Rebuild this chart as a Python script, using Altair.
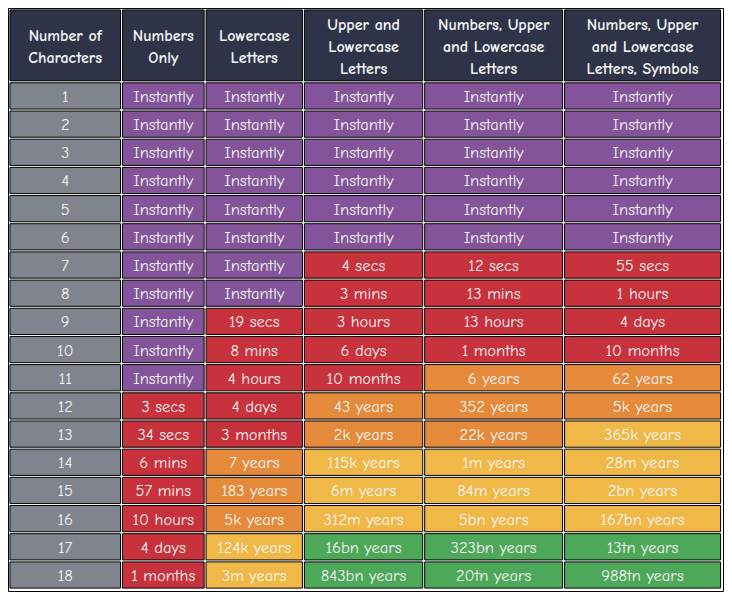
import altair as alt
import pandas as pd

# ---------------- data ----------------
headers = [
    "Number of\nCharacters",
    "Numbers\nOnly",
    "Lowercase\nLetters",
    "Upper and\nLowercase\nLetters",
    "Numbers, Upper\nand Lowercase\nLetters",
    "Numbers, Upper\nand Lowercase\nLetters, Symbols",
]
num_chars = [str(i) for i in range(1, 19)]

numbers_only = ["Instantly"] * 11 + ["3 secs", "34 secs", "6 mins", "57 mins", "10 hours", "4 days", "1 months"]
lowercase = ["Instantly"] * 8 + ["19 secs", "8 mins", "4 hours", "4 days", "3 months", "7 years",
                                 "183 years", "5k years", "124k years", "3m years"]
upper_lower = ["Instantly"] * 6 + ["4 secs", "3 mins", "3 hours", "6 days", "10 months", "43 years",
                                   "2k years", "115k years", "6m years", "312m years", "16bn years", "843bn years"]
num_upper_lower = ["Instantly"] * 6 + ["12 secs", "13 mins", "13 hours", "1 months", "6 years", "352 years",
                                       "22k years", "1m years", "84m years", "5bn years", "323bn years", "20tn years"]
all_sets = ["Instantly"] * 6 + ["55 secs", "1 hours", "4 days", "10 months", "62 years", "5k years",
                                "365k years", "28m years", "2bn years", "167bn years", "13tn years", "988tn years"]

# strength level per cell: I=instantly, R=red, O=orange, Y=yellow, G=green
lvl_numbers_only = list("IIIIIIIIIII") + list("RRRRRRR")
lvl_lowercase = list("IIIIIIII") + list("RRRRR") + list("OOO") + list("YY")
lvl_upper_lower = list("IIIIII") + list("RRRRR") + list("OO") + list("YYY") + list("GG")
lvl_num_upper_lower = list("IIIIII") + list("RRRR") + list("OOO") + list("YYY") + list("GG")
lvl_all = list("IIIIII") + list("RRRR") + list("OO") + list("YYYY") + list("GGG")

columns = [num_chars, numbers_only, lowercase, upper_lower, num_upper_lower, all_sets]
levels = [["N"] * 18, lvl_numbers_only, lvl_lowercase, lvl_upper_lower, lvl_num_upper_lower, lvl_all]

level_domain = ["H", "N", "I", "R", "O", "Y", "G"]
level_colors = ["#2e3347", "#80848e", "#84549b", "#c8323c", "#e5893a", "#f0b846", "#4ea85a"]

# ---------------- layout (reference pixel units) ----------------
TOTAL_W, TOTAL_H = 732, 601
X_EDGES = [1, 116, 201.5, 302, 425, 568, 729.5]
HEAD_TOP, HEAD_BOTTOM, ROW_H = 1, 76, 29
GAP = 1
HEAD_LH = 22.5

cells_rows, text_rows = [], []
for c, hdr in enumerate(headers):
    x0, x1 = X_EDGES[c], X_EDGES[c + 1]
    xc = (x0 + x1) / 2
    cells_rows.append(dict(x=x0 + GAP, x2=x1 - GAP, y=HEAD_TOP + GAP, y2=HEAD_BOTTOM - GAP, level="H"))
    lines = hdr.split("\n")
    hc = (HEAD_TOP + HEAD_BOTTOM) / 2 + 1.5
    for k, ln in enumerate(lines):
        text_rows.append(dict(xc=xc, yc=hc + (k - (len(lines) - 1) / 2) * HEAD_LH, label=ln, kind="head"))
    for r in range(18):
        y0 = HEAD_BOTTOM + r * ROW_H
        y1 = y0 + ROW_H
        cells_rows.append(dict(x=x0 + GAP, x2=x1 - GAP, y=y0 + GAP, y2=y1 - GAP, level=levels[c][r]))
        text_rows.append(dict(xc=xc, yc=(y0 + y1) / 2 + 1, label=columns[c][r], kind="body"))
cells_df = pd.DataFrame(cells_rows)
text_df = pd.DataFrame(text_rows)
frame = pd.DataFrame([dict(x=0.5, x2=TOTAL_W - 0.5, y=0.5, y2=TOTAL_H - 0.5)])

PLOT_W, PLOT_H = 716, 584
xs = alt.Scale(domain=[0, TOTAL_W], range=[0, PLOT_W], nice=False, zero=False)
ys = alt.Scale(domain=[0, TOTAL_H], range=[0, PLOT_H], nice=False, zero=False)
FONT = "Comic Sans MS, Comic Neue, DejaVu Sans"

frame_layer = alt.Chart(frame).mark_rect(fill="white", stroke="black", strokeWidth=1).encode(
    x=alt.X("x:Q", scale=xs, axis=None), x2="x2:Q",
    y=alt.Y("y:Q", scale=ys, axis=None), y2="y2:Q",
)

cells = alt.Chart(cells_df).mark_rect(stroke="black", strokeWidth=1).encode(
    x=alt.X("x:Q", scale=xs, axis=None), x2="x2:Q",
    y=alt.Y("y:Q", scale=ys, axis=None), y2="y2:Q",
    fill=alt.Fill("level:N", scale=alt.Scale(domain=level_domain, range=level_colors), legend=None),
)

head_text = alt.Chart(text_df).transform_filter(alt.datum.kind == "head").mark_text(
    font=FONT, fontSize=16, fontWeight="bold", color="#f4f4f4", baseline="middle", align="center",
).encode(
    x=alt.X("xc:Q", scale=xs, axis=None), y=alt.Y("yc:Q", scale=ys, axis=None), text="label:N",
)

body_text = alt.Chart(text_df).transform_filter(alt.datum.kind == "body").mark_text(
    font=FONT, fontSize=16.5, color="#f4f4f4", baseline="middle", align="center",
).encode(
    x=alt.X("xc:Q", scale=xs, axis=None), y=alt.Y("yc:Q", scale=ys, axis=None), text="label:N",
)

chart = alt.layer(frame_layer, cells, head_text, body_text).properties(
    width=PLOT_W, height=PLOT_H, padding=0, autosize=alt.AutoSizeParams(type="none"),
).configure_view(stroke=None)

chart.save("out.html", embed_options={"renderer": "svg", "actions": False})
